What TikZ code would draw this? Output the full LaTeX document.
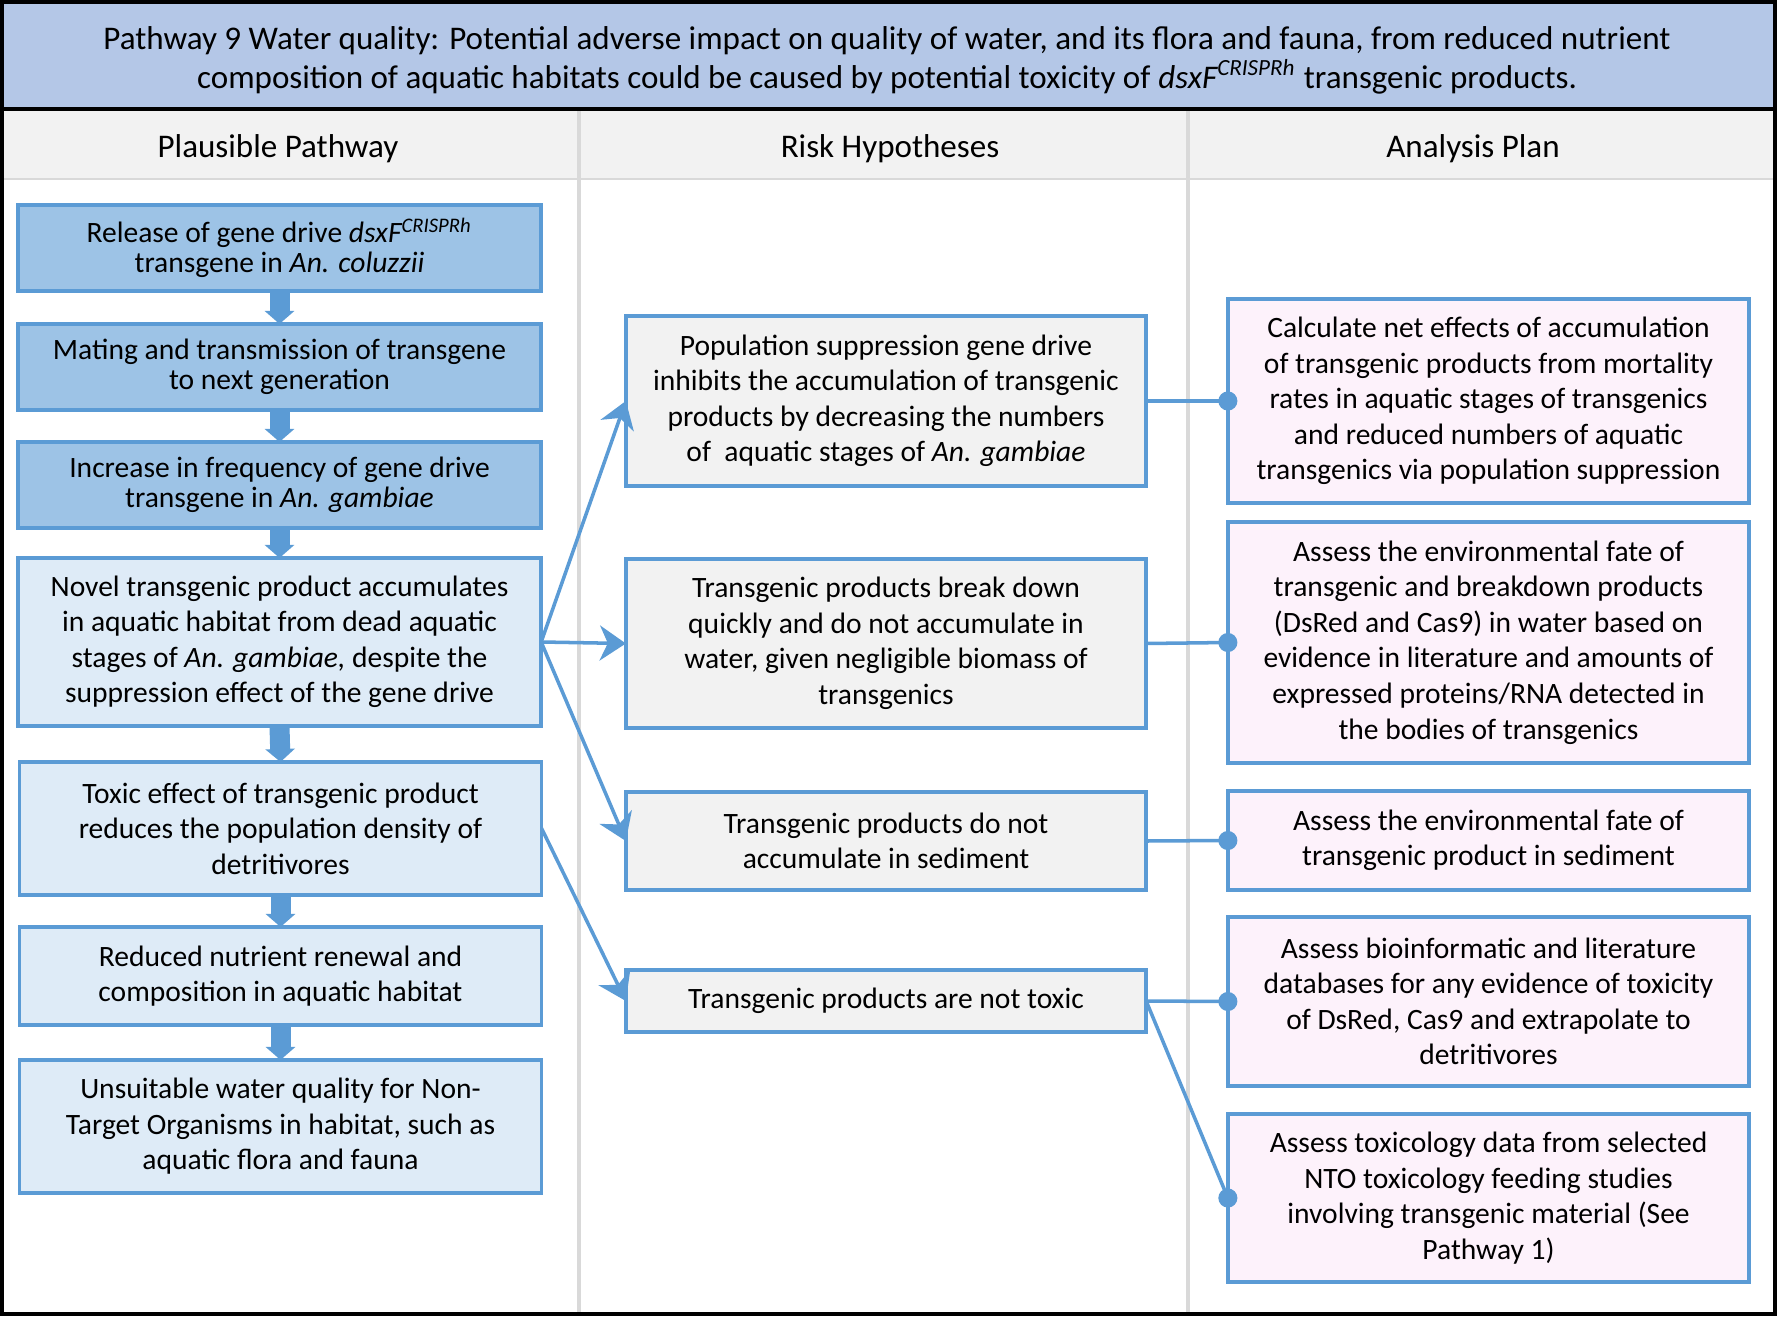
\documentclass[tikz,border=0pt]{standalone}
\usepackage{fontspec}
\setmainfont{Carlito}
\usepackage{tikz}
\usetikzlibrary{arrows.meta}
\definecolor{titlebg}{HTML}{B4C7E7}
\definecolor{headbg}{HTML}{F2F2F2}
\definecolor{rule}{HTML}{D9D9D9}
\definecolor{edge}{HTML}{5B9BD5}
\definecolor{pathdark}{HTML}{9DC3E6}
\definecolor{pathlight}{HTML}{DEEBF7}
\definecolor{hypbg}{HTML}{F2F2F2}
\definecolor{planbg}{HTML}{FDF2FB}
\begin{document}
\begin{tikzpicture}[x=0.01cm, y=-0.01cm,
  box/.style={draw=edge, line width=1pt, align=center, inner sep=2pt, outer sep=0pt, font=\fontsize{8.4}{10.1}\selectfont},
  pathtop/.style={box, fill=pathdark, minimum width=5.23cm, font=\fontsize{8.4}{8.6}\selectfont},
  pathbox/.style={box, fill=pathlight, minimum width=5.22cm},
  hypbox/.style={box, fill=hypbg, minimum width=5.2cm},
  planbox/.style={box, fill=planbg, minimum width=5.21cm},
  headtext/.style={font=\fontsize{9.4}{11}\selectfont, align=center, inner sep=0pt},
  blockarrow/.style={edge, line width=0.2cm, -{Triangle[width=0.29cm, length=0.13cm]}},
  link/.style={edge, line width=1pt, -{Stealth[length=0.26cm, width=0.35cm, inset=0.08cm]}},
  dotlink/.style={edge, line width=1pt, -{Circle[length=0.19cm]}, shorten >=-0.095cm}]
\useasboundingbox (0,0) rectangle (1777,1316);
\fill[titlebg] (2,2) rectangle (1775,109);
\fill[headbg] (2,110) rectangle (1775,179);
\draw[rule, line width=0.5pt] (2,179) -- (1775,179);
\draw[rule, line width=0.9pt] (579,110) -- (579,1313);
\draw[rule, line width=0.9pt] (1188,110) -- (1188,1313);
\draw[black, line width=0.9pt] (2,109) -- (1775,109);
\node[headtext] (title) at (887,60.5) {Pathway 9 Water quality: Potential adverse impact on quality of water, and its flora and fauna, from reduced nutrient\\composition of aquatic habitats could be caused by potential toxicity of \textit{dsxF\textsuperscript{CRISPRh}} transgenic products.};
\node[headtext] (H1) at (278,148.5) {Plausible Pathway};
\node[headtext] (H2) at (890,148.5) {Risk Hypotheses};
\node[headtext] (H3) at (1473,148.5) {Analysis Plan};

\node[pathtop, minimum height=0.86cm] (PP1) at (279.5,248) {Release of gene drive \textit{dsxF\textsuperscript{CRISPRh}}\\transgene in \textit{An. coluzzii}};
\node[pathtop, minimum height=0.86cm] (PP2) at (279.5,367) {Mating and transmission of transgene\\to next generation};
\node[pathtop, minimum height=0.86cm] (PP3) at (279.5,485) {Increase in frequency of gene drive\\transgene in \textit{An. gambiae}};
\node[pathbox, minimum width=5.23cm, minimum height=1.68cm] (PP4) at (279.5,642) {Novel transgenic product accumulates\\in aquatic habitat from dead aquatic\\stages of \textit{An. gambiae,} despite the\\suppression effect of the gene drive};
\node[pathbox, minimum height=1.33cm] (PP5) at (280.5,828.5) {Toxic effect of transgenic product\\reduces the population density of\\detritivores};
\node[pathbox, minimum height=0.98cm] (PP6) at (280.5,976) {Reduced nutrient renewal and\\composition in aquatic habitat};
\node[pathbox, minimum height=1.33cm] (PP7) at (280.5,1126.5) {Unsuitable water quality for Non-\\Target Organisms in habitat, such as\\aquatic flora and fauna};

\node[hypbox, minimum height=1.7cm] (RH1) at (886,401) {Population suppression gene drive\\inhibits the accumulation of transgenic\\products by decreasing the numbers\\of\ \ aquatic stages of \textit{An. gambiae}};
\node[hypbox, minimum height=1.69cm] (RH2) at (886,643.5) {Transgenic products break down\\quickly and do not accumulate in\\water, given negligible biomass of\\transgenics};
\node[hypbox, minimum height=0.98cm] (RH3) at (886,841) {Transgenic products do not\\accumulate in sediment};
\node[hypbox, minimum height=0.62cm] (RH4) at (886,1001) {Transgenic products are not toxic};

\node[planbox, minimum height=2.04cm] (AP1) at (1488.5,401) {Calculate net effects of accumulation\\of transgenic products from mortality\\rates in aquatic stages of transgenics\\and reduced numbers of aquatic\\transgenics via population suppression};
\node[planbox, minimum height=2.41cm] (AP2) at (1488.5,642.5) {Assess the environmental fate of\\transgenic and breakdown products\\(DsRed and Cas9) in water based on\\evidence in literature and amounts of\\expressed proteins/RNA detected in\\the bodies of transgenics};
\node[planbox, minimum height=0.99cm] (AP3) at (1488.5,840.5) {Assess the environmental fate of\\transgenic product in sediment};
\node[planbox, minimum height=1.69cm] (AP4) at (1488.5,1001.5) {Assess bioinformatic and literature\\databases for any evidence of toxicity\\of DsRed, Cas9 and extrapolate to\\detritivores};
\node[planbox, minimum height=1.68cm] (AP5) at (1488.5,1198) {Assess toxicology data from selected\\NTO toxicology feeding studies\\involving transgenic material (See\\Pathway 1)};

\draw[blockarrow] (PP1.south) -- (PP2.north);
\draw[blockarrow] (PP2.south) -- (PP3.north);
\draw[blockarrow] (PP3.south) -- (PP4.north);
\draw[blockarrow] (PP4.south) -- (PP5.north);
\draw[blockarrow] (PP5.south) -- (PP6.north);
\draw[blockarrow] (PP6.south) -- (PP7.north);
\draw[link] (PP4.east) -- (RH1.west);
\draw[link] (PP4.east) -- (RH2.west);
\draw[link] (PP4.east) -- (RH3.west);
\draw[link] (PP5.east) -- (RH4.west);
\draw[dotlink] (RH1.east) -- (AP1.west);
\draw[dotlink] (RH2.east) -- (AP2.west);
\draw[dotlink] (RH3.east) -- (AP3.west);
\draw[dotlink] (RH4.east) -- (AP4.west);
\draw[dotlink] (RH4.east) -- (AP5.west);
\draw[black, line width=1.1pt] (2,2) rectangle (1775,1314);
\end{tikzpicture}
\end{document}
